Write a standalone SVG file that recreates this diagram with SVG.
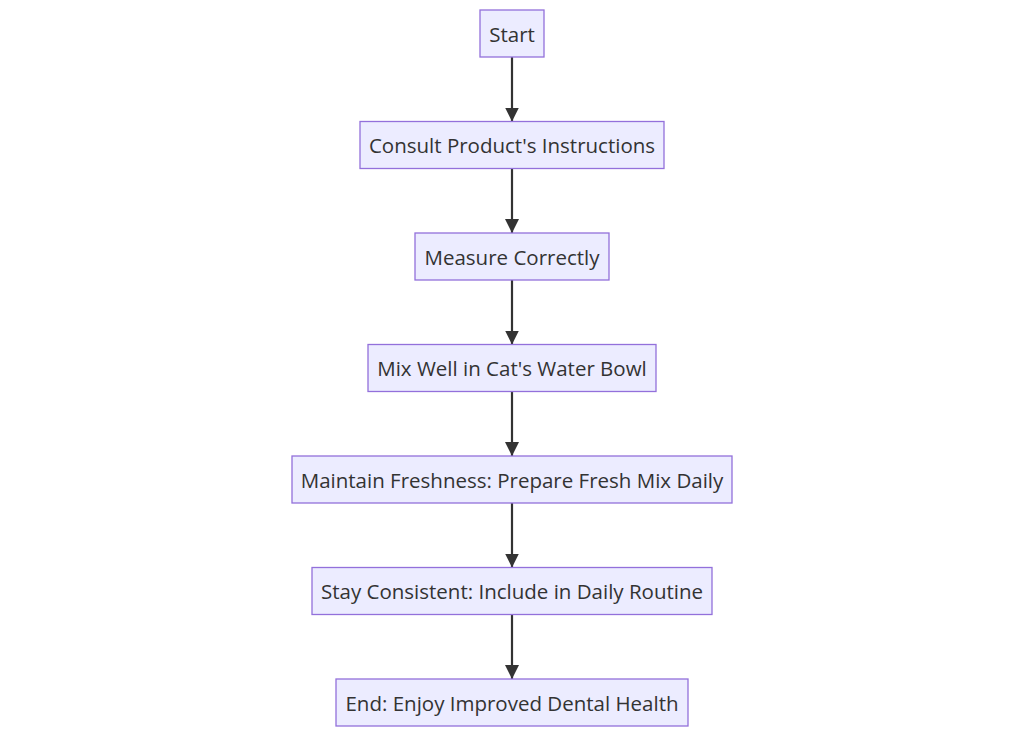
<svg xmlns="http://www.w3.org/2000/svg" width="1024" height="736" viewBox="0 0 1024 736">
<style>
.node rect{fill:#ECECFF;stroke:#9370DB;stroke-width:1.3px;}
.node text{font-family:"Open Sans","Noto Sans",sans-serif;font-size:20.5px;fill:#333;text-anchor:middle;dominant-baseline:central;}
.edge{stroke:#333;stroke-width:2.2;fill:none;}
</style>
<defs>
<marker id="arrow" viewBox="0 0 14 14" refX="14" refY="7" markerWidth="14" markerHeight="14" markerUnits="userSpaceOnUse" orient="auto-start-reverse">
<path d="M0,0 L14,7 L0,14 Z" fill="#333"/>
</marker>
</defs>
<rect width="1024" height="736" fill="#fff"/>
<g id="connectors">
<line class="edge" x1="512" y1="57" x2="512" y2="121.5" marker-end="url(#arrow)"/>
<line class="edge" x1="512" y1="168.5" x2="512" y2="233" marker-end="url(#arrow)"/>
<line class="edge" x1="512" y1="280" x2="512" y2="344.5" marker-end="url(#arrow)"/>
<line class="edge" x1="512" y1="391.5" x2="512" y2="456" marker-end="url(#arrow)"/>
<line class="edge" x1="512" y1="503" x2="512" y2="567.5" marker-end="url(#arrow)"/>
<line class="edge" x1="512" y1="614.5" x2="512" y2="679" marker-end="url(#arrow)"/>
</g>
<g id="start" class="node"><rect x="480" y="10" width="64" height="47"/><text x="512" y="33.8">Start</text></g>
<g id="consult" class="node"><rect x="360" y="121.5" width="304" height="47"/><text x="512" y="145.3">Consult Product's Instructions</text></g>
<g id="measure" class="node"><rect x="415" y="233" width="194" height="47"/><text x="512" y="256.8">Measure Correctly</text></g>
<g id="mix" class="node"><rect x="368" y="344.5" width="288" height="47"/><text x="512" y="368.3">Mix Well in Cat's Water Bowl</text></g>
<g id="maintain" class="node"><rect x="292" y="456" width="440" height="47"/><text x="512" y="479.8">Maintain Freshness: Prepare Fresh Mix Daily</text></g>
<g id="stay" class="node"><rect x="312" y="567.5" width="400" height="47"/><text x="512" y="591.3">Stay Consistent: Include in Daily Routine</text></g>
<g id="end" class="node"><rect x="336" y="679" width="352" height="47"/><text x="512" y="702.8">End: Enjoy Improved Dental Health</text></g>
</svg>
